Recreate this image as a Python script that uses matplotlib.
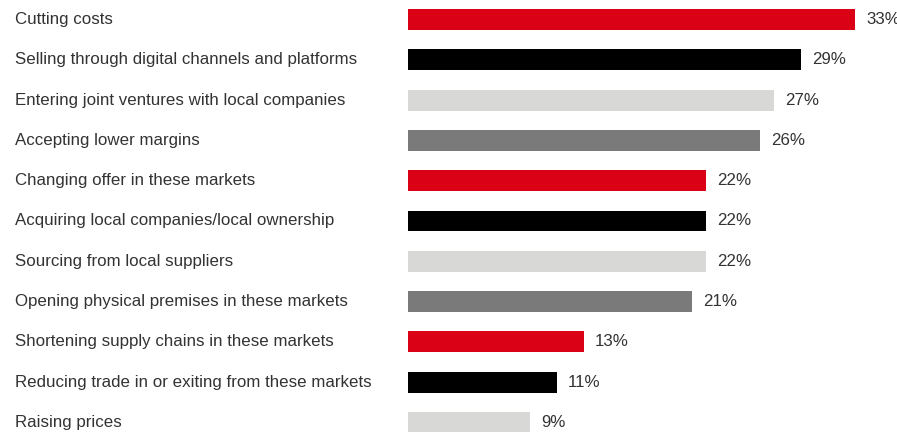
#! /usr/bin/env python

import matplotlib
matplotlib.use("Agg")
import matplotlib.pyplot as plt
import matplotlib.transforms as mtransforms

# survey answers, top to bottom
actions = [
    "Cutting costs",
    "Selling through digital channels and platforms",
    "Entering joint ventures with local companies",
    "Accepting lower margins",
    "Changing offer in these markets",
    "Acquiring local companies/local ownership",
    "Sourcing from local suppliers",
    "Opening physical premises in these markets",
    "Shortening supply chains in these markets",
    "Reducing trade in or exiting from these markets",
    "Raising prices",
]
shares = [33, 29, 27, 26, 22, 22, 22, 21, 13, 11, 9]

# colours cycle red, black, light grey, dark grey
palette = ["#da0016", "#000000", "#d8d8d6", "#7a7a7a"]

if __name__ == "__main__":
    plt.rcParams["font.family"] = ["Liberation Sans", "DejaVu Sans"]

    fig = plt.figure(figsize=(8.97, 4.32), dpi=100)
    ax = fig.add_axes([408 / 897, 0, 1 - 408 / 897, 1])

    rows = list(range(len(actions)))
    colors = [palette[i % 4] for i in rows]
    ax.barh(rows, shares, height=0.52, color=colors)

    ax.set_xlim(0, 489 / 13.545)
    ax.set_ylim(10.236, -0.484)
    ax.axis("off")

    # category names on the left, value labels after each bar
    trans = mtransforms.blended_transform_factory(fig.transFigure, ax.transData)
    for i, (name, val) in enumerate(zip(actions, shares)):
        ax.text(15 / 897, i, name, transform=trans, ha="left", va="center",
                fontsize=12.2, color="#333333")
        ax.annotate(f"{val}%", xy=(val, i), xytext=(8, 0),
                    textcoords="offset points", ha="left", va="center",
                    fontsize=12.2, color="#333333")

    fig.savefig("out.png", dpi=100)
